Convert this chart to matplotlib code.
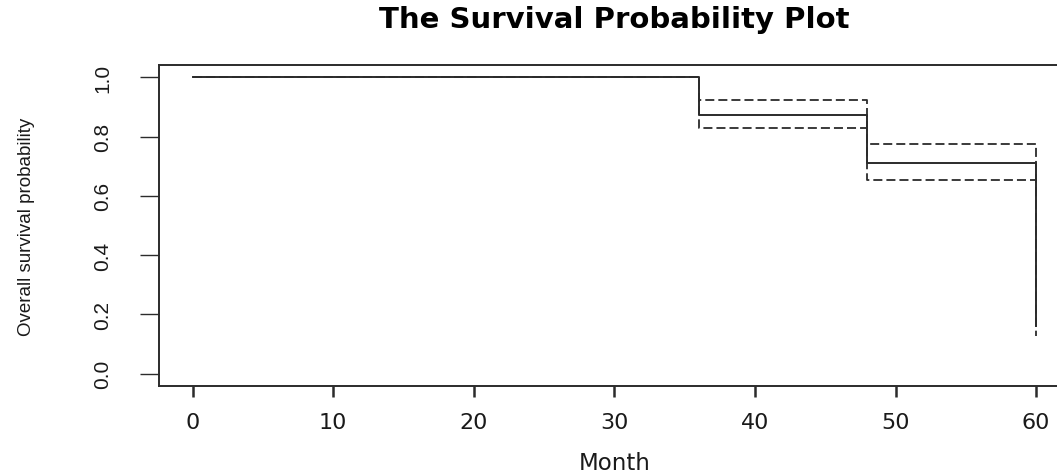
import matplotlib
matplotlib.use("Agg")
import matplotlib.pyplot as plt
from matplotlib import font_manager

# Kaplan-Meier estimate with pointwise confidence band
month = [0, 36, 48, 60]
surv = [1.0, 0.873, 0.711, 0.161]
surv_upper = [1.0, 0.922, 0.776, 0.33]
surv_lower = [1.0, 0.830, 0.652, 0.128]

x_ticks = [0, 10, 20, 30, 40, 50, 60]
y_ticks = [0.0, 0.2, 0.4, 0.6, 0.8, 1.0]
y_tick_labels = ["0.0", "0.2", "0.4", "0.6", "0.8", "1.0"]

installed = {f.name for f in font_manager.fontManager.ttflist}
NARROW = "Liberation Sans Narrow" if "Liberation Sans Narrow" in installed else "Liberation Sans"
NARROW_SIZE = 17.5 if NARROW == "Liberation Sans Narrow" else 14.5

plt.rcParams["lines.scale_dashes"] = False
TEXT_COLOR = "#1a1a1a"
LINE_COLOR = "#2b2b2b"


def main():
    fig = plt.figure(figsize=(10.57, 4.77), dpi=100)
    ax = fig.add_axes([0.1502, 0.1897, 0.862, 0.6709])

    for band in (surv_upper, surv_lower):
        ax.step(month, band, where="post", color=LINE_COLOR, linewidth=1.3,
                linestyle=(0, (6.5, 2.9)))
    ax.step(month, surv, where="post", color=LINE_COLOR, linewidth=1.4)

    ax.set_xlim(-2.4, 62.4)
    ax.set_ylim(-0.04, 1.04)

    ax.spines["right"].set_visible(False)
    for side in ("left", "top", "bottom"):
        ax.spines[side].set_linewidth(1.4)
        ax.spines[side].set_color(LINE_COLOR)

    ax.set_xticks(x_ticks)
    ax.set_xticklabels([str(v) for v in x_ticks], fontfamily="DejaVu Sans",
                       fontsize=16, color=TEXT_COLOR)
    ax.tick_params(axis="x", direction="out", length=8, width=1.8,
                   color=LINE_COLOR, pad=11)

    ax.set_yticks(y_ticks)
    ax.set_yticklabels(y_tick_labels, rotation=90, va="center",
                       fontfamily=NARROW, fontsize=NARROW_SIZE + 0.5,
                       color=TEXT_COLOR)
    ax.tick_params(axis="y", direction="out", length=13.5, width=1.0,
                   color=LINE_COLOR, pad=20)

    ax.set_xlabel("Month", fontfamily="DejaVu Sans", fontsize=16.5,
                  color=TEXT_COLOR, labelpad=14)
    ax.set_ylabel("Overall survival probability", fontfamily=NARROW,
                  fontsize=NARROW_SIZE - 1, color=TEXT_COLOR, labelpad=42)
    ax.set_title("The Survival Probability Plot", fontfamily="DejaVu Sans",
                 fontweight="bold", fontsize=21, color="black", pad=27.7)

    fig.savefig("out.png", dpi=100)
    plt.close(fig)


if __name__ == "__main__":
    main()
